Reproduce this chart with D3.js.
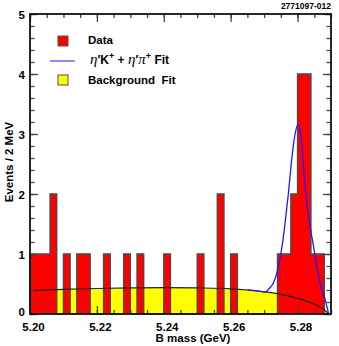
<!DOCTYPE html>
<html>
<head>
<meta charset="utf-8">
<script src="https://cdn.jsdelivr.net/npm/d3@7"></script>
<style>
body { margin: 0; background: #fff; }
text { font-family: "Liberation Sans", Arial, sans-serif; font-weight: bold; }
</style>
</head>
<body>
<svg width="339" height="346"></svg>
<script>

// histogram: 2 MeV bins starting at 5.200 GeV
const xMin = 5.20, xMax = 5.29, binWidth = 0.002;
const counts = [1, 1, 1, 2, 0, 1, 0, 1, 1, 0, 0, 1, 0, 0, 1, 0, 1, 0, 0, 0,
    1, 0, 0, 0, 0, 1, 0, 0, 2, 0, 1, 0, 0, 0, 0, 0, 0, 1, 1, 2,
    4, 4, 1, 1, 0];

// background fit
const bgMass = [5.200, 5.210, 5.220, 5.230, 5.240, 5.250, 5.260, 5.265, 5.270, 5.274,
    5.278, 5.281, 5.284, 5.286, 5.2875, 5.2885, 5.2893];
const bgLevel = [0.39, 0.41, 0.425, 0.435, 0.44, 0.435, 0.42, 0.40, 0.37, 0.34,
    0.29, 0.245, 0.19, 0.14, 0.09, 0.045, 0.0];

// signal + background fit
const fitMass = [5.2650, 5.2680, 5.2705, 5.2716, 5.2728, 5.2737, 5.2746, 5.2755, 5.2764, 5.2773,
    5.2782, 5.2791, 5.2801, 5.2807, 5.2813, 5.2819, 5.2825, 5.2833, 5.2839, 5.2845,
    5.2851, 5.2857, 5.2863, 5.2867, 5.2873, 5.2881, 5.2887, 5.2893];
const fitLevel = [0.40, 0.385, 0.37, 0.43, 0.52, 0.66, 0.88, 1.18, 1.58, 2.03,
    2.55, 2.95, 3.15, 3.07, 2.78, 2.35, 1.98, 1.62, 1.40, 1.22,
    1.02, 0.80, 0.63, 0.52, 0.40, 0.27, 0.14, 0.0];

const xLabels = [5.20, 5.22, 5.24, 5.26, 5.28];
const yLabels = [0, 1, 2, 3, 4, 5];

const svg = d3.select('svg');
const plotL = 30, plotR = 331, plotT = 14, plotB = 314;

const x = d3.scaleLinear().domain([xMin, xMax]).range([plotL, plotR]);
const y = d3.scaleLinear().domain([0, 5]).range([plotB, plotT]);

// step points for the histogram
const steps = [[xMin, 0]];
counts.forEach((c, i) => steps.push([xMin + i * binWidth, c]));
steps.push([xMin + counts.length * binWidth, counts[counts.length - 1]]);
steps.push([xMin + counts.length * binWidth, 0]);

const bg = bgMass.map((m, i) => [m, bgLevel[i]]);
const fit = fitMass.map((m, i) => [m, fitLevel[i]]);

// yellow background area
svg.append('path')
    .datum(bg)
    .attr('fill', '#ffff00')
    .attr('d', d3.area().curve(d3.curveMonotoneX)
        .x(d => x(d[0])).y0(y(0)).y1(d => y(d[1])));

// data histogram
svg.append('path')
    .datum(steps)
    .attr('fill', '#ff0000')
    .attr('stroke', '#4a4a4a')
    .attr('stroke-width', 1.4)
    .attr('d', d3.line().curve(d3.curveStepAfter)
        .x(d => x(d[0])).y(d => y(d[1])));

// background curve
svg.append('path')
    .datum(bg)
    .attr('fill', 'none')
    .attr('stroke', '#222')
    .attr('stroke-width', 1.2)
    .attr('d', d3.line().curve(d3.curveMonotoneX)
        .x(d => x(d[0])).y(d => y(d[1])));

// total fit
svg.append('path')
    .datum(fit)
    .attr('fill', 'none')
    .attr('stroke', '#1a1aff')
    .attr('stroke-width', 1.3)
    .attr('d', d3.line().curve(d3.curveMonotoneX)
        .x(d => x(d[0])).y(d => y(d[1])));

// ticks, all pointing inward
const minorX = d3.range(0, 19).map(i => +(xMin + i * 0.005).toFixed(3));
const minorY = d3.range(0, 26).map(i => +(i * 0.2).toFixed(1));

function ticks(g) {
    g.select('.domain').remove();
    g.selectAll('line').attr('stroke', '#444').attr('stroke-width', 1.3);
}

svg.append('g').attr('transform', `translate(0,${plotB})`)
    .call(d3.axisBottom(x).tickValues(minorX).tickSize(-4).tickFormat('')).call(ticks);
svg.append('g').attr('transform', `translate(0,${plotT})`)
    .call(d3.axisTop(x).tickValues(minorX).tickSize(-4).tickFormat('')).call(ticks);
svg.append('g').attr('transform', `translate(${plotL},0)`)
    .call(d3.axisLeft(y).tickValues(minorY).tickSize(-4.5).tickFormat('')).call(ticks);
svg.append('g').attr('transform', `translate(${plotR},0)`)
    .call(d3.axisRight(y).tickValues(minorY).tickSize(-4.5).tickFormat('')).call(ticks);

const xAxis = svg.append('g').attr('transform', `translate(0,${plotB})`)
    .call(d3.axisBottom(x).tickValues(xLabels).tickSize(-8).tickFormat(d3.format('.2f')))
    .call(ticks);
xAxis.selectAll('text')
    .attr('y', 17).attr('dy', 0).attr('dx', 3)
    .attr('fill', '#000').style('font-size', '11.5px');

svg.append('g').attr('transform', `translate(0,${plotT})`)
    .call(d3.axisTop(x).tickValues(xLabels).tickSize(-8).tickFormat('')).call(ticks);

const yAxis = svg.append('g').attr('transform', `translate(${plotL},0)`)
    .call(d3.axisLeft(y).tickValues(yLabels).tickSize(-8).tickPadding(5).tickFormat(d3.format('d')))
    .call(ticks);
yAxis.selectAll('text')
    .attr('fill', '#000').style('font-size', '11.5px')
    .attr('dy', d => d === 0 ? '0.1em' : '0.35em');

svg.append('g').attr('transform', `translate(${plotR},0)`)
    .call(d3.axisRight(y).tickValues(yLabels).tickSize(-8).tickFormat('')).call(ticks);

// frame
svg.append('rect')
    .attr('x', plotL).attr('y', plotT)
    .attr('width', plotR - plotL).attr('height', plotB - plotT)
    .attr('fill', 'none')
    .attr('stroke', '#111')
    .attr('stroke-width', 1.8);

// axis titles
svg.append('text')
    .attr('x', 193).attr('y', 342)
    .attr('text-anchor', 'middle')
    .style('font-size', '11.5px')
    .text('B mass (GeV)');

svg.append('text')
    .attr('transform', 'translate(13,162)rotate(-90)')
    .attr('text-anchor', 'middle')
    .style('font-size', '11.5px')
    .text('Events / 2 MeV');

svg.append('text')
    .attr('x', 331).attr('y', 9)
    .attr('text-anchor', 'end')
    .style('font-size', '8.5px')
    .text('2771097-012');

// legend
const legend = svg.append('g');

legend.append('rect')
    .attr('x', 58).attr('y', 36).attr('width', 10).attr('height', 10)
    .attr('fill', '#ff0000').attr('stroke', '#555').attr('stroke-width', 1);
legend.append('text')
    .attr('x', 88).attr('y', 44)
    .style('font-size', '11.5px')
    .text('Data');

legend.append('line')
    .attr('x1', 50).attr('x2', 75).attr('y1', 61).attr('y2', 61)
    .attr('stroke', '#8c8cff').attr('stroke-width', 2);
const fitText = legend.append('text')
    .attr('x', 90).attr('y', 64)
    .style('font-size', '12px')
    .style('white-space', 'pre');
const greek = s => fitText.append('tspan').attr('font-family', 'Liberation Serif')
    .attr('font-style', 'italic').attr('font-weight', 'normal').style('font-size', '15px').text(s);
greek('η');
fitText.append('tspan').text('′K');
fitText.append('tspan').attr('dy', -5).style('font-size', '9px').text('+');
fitText.append('tspan').attr('dy', 5).text(' + ');
greek('η');
fitText.append('tspan').text('′');
greek('π');
fitText.append('tspan').attr('dy', -5).style('font-size', '9px').text('+');
fitText.append('tspan').attr('dy', 5).text(' Fit');

legend.append('rect')
    .attr('x', 58).attr('y', 75).attr('width', 10).attr('height', 10)
    .attr('fill', '#ffff00').attr('stroke', '#555').attr('stroke-width', 1);
legend.append('text')
    .attr('x', 88).attr('y', 84)
    .style('font-size', '11.5px')
    .style('white-space', 'pre')
    .text('Background  Fit');

</script>
</body>
</html>
